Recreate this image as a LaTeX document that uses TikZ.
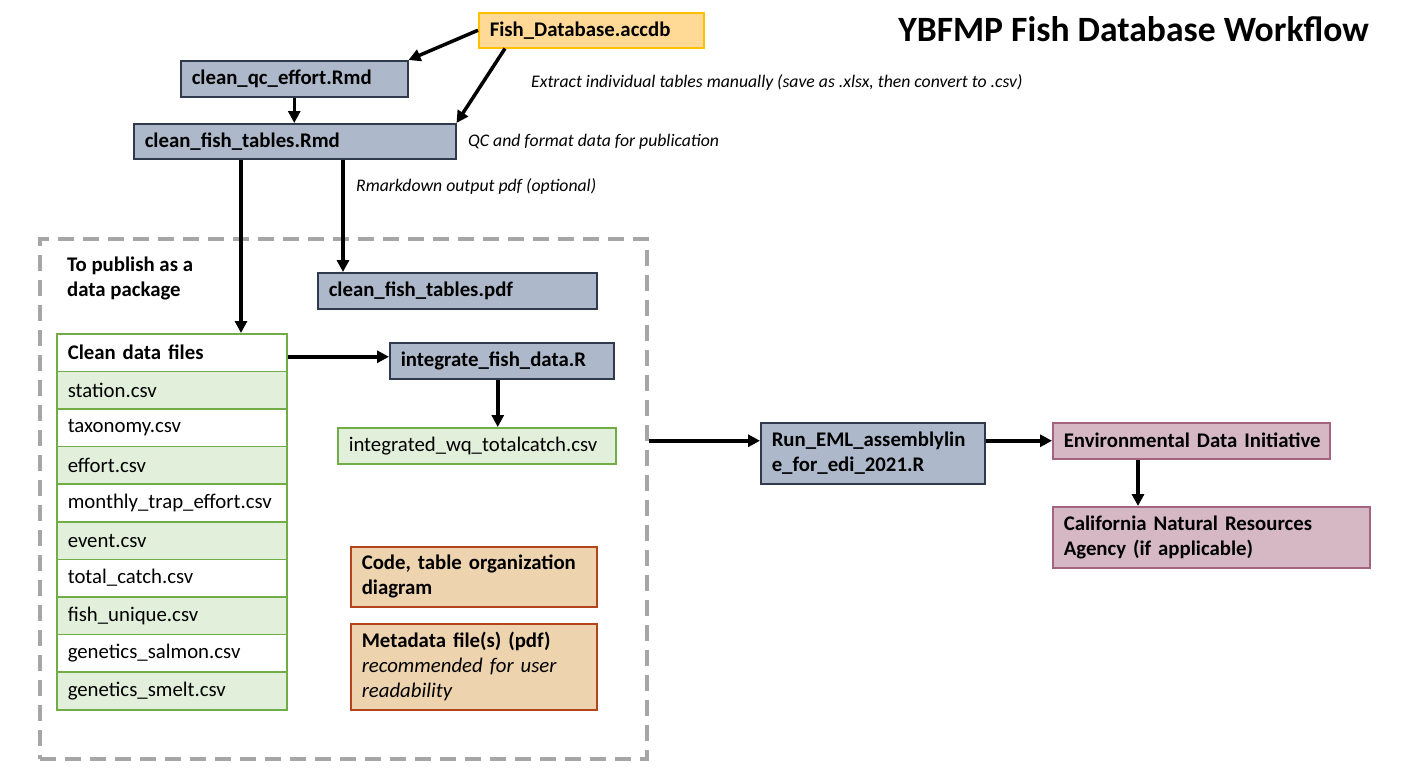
\documentclass[tikz,border=0pt]{standalone}
\usepackage{fontspec}
\setmainfont{Carlito}
\usetikzlibrary{arrows.meta,calc}
\definecolor{gbfill}{HTML}{ADB9CA}
\definecolor{gbdraw}{HTML}{2F3B4C}
\definecolor{dbfill}{HTML}{FFD995}
\definecolor{dbdraw}{HTML}{FFC000}
\definecolor{grfill}{HTML}{E2EFDA}
\definecolor{grdraw}{HTML}{70AD47}
\definecolor{pkfill}{HTML}{D5B8C4}
\definecolor{pkdraw}{HTML}{A4637E}
\definecolor{orfill}{HTML}{EDD3AE}
\definecolor{ordraw}{HTML}{B5441C}
\definecolor{dashgray}{HTML}{A6A6A6}
\newcommand\boxfont{\fontsize{20.8}{25}\selectfont}
\newcommand\lblfont{\fontsize{17.7}{21}\selectfont\itshape}
\tikzset{
  wh/.code 2 args={\pgfmathsetmacro\mytw{#1-22}\edef\mytmp{\noexpand\tikzset{minimum width=#1pt, minimum height=#2pt, text width=\mytw pt}}\mytmp},
  base/.style={rectangle, anchor=north west, align=left, inner xsep=11pt, inner ysep=0pt, line width=1.5pt, font=\boxfont},
  script/.style={base, draw=gbdraw, fill=gbfill, font=\boxfont\bfseries},
  dbbox/.style={base, draw=dbdraw, fill=dbfill, font=\boxfont\bfseries},
  filerow/.style={base, draw=grdraw, fill=grfill},
  plainrow/.style={base, draw=grdraw, fill=white},
  pinkbox/.style={base, draw=pkdraw, fill=pkfill, font=\boxfont\bfseries},
  orbox/.style={base, draw=ordraw, fill=orfill, font=\boxfont\bfseries},
  lbl/.style={anchor=west, inner sep=0pt, font=\lblfont},
  arr/.style={line width=3.5pt, -{Triangle[length=12pt,width=12pt]}},
}
\begin{document}
\begin{tikzpicture}[x=1pt,y=-1pt]
\useasboundingbox (0,0) rectangle (1409,780);
% dashed package frame
\node[draw=dashgray, line width=3.5pt, dash pattern=on 16pt off 9pt, anchor=north west, minimum width=607pt, minimum height=520pt, inner sep=0pt] (pkg) at (38,237) {};
% title
\node[anchor=east, inner sep=0pt, font=\fontsize{35.6}{40}\selectfont\bfseries] (title) at (1369,29) {YBFMP Fish Database Workflow};
% top nodes
\node[dbbox, wh={225}{35}] (fishdb) at (478,12) {Fish\_Database.accdb};
\node[script, wh={227}{36}] (qc) at (180,60) {clean\_qc\_effort.Rmd};
\node[script, wh={322}{35}] (cft) at (133,123) {clean\_fish\_tables.Rmd};
\node[script, wh={279}{36}] (pdf) at (317,272) {clean\_fish\_tables.pdf};
% labels
\node[lbl] (l1) at (531,82) {Extract individual tables manually (save as .xlsx, then convert to .csv)};
\node[lbl] (l2) at (468,142) {QC and format data for publication};
\node[lbl] (l3) at (356,186) {Rmarkdown output pdf (optional)};
\node[anchor=west, align=left, inner sep=0pt, font=\boxfont\bfseries] (pubtxt) at (67,278) {To publish as a\\data package};
% table of clean data files
\node[plainrow, font=\boxfont\bfseries, wh={230}{37.6}] (r0) at (56,333) {Clean data files};
\node[filerow, wh={230}{37.6}] (r1) at (56,370.6) {station.csv};
\node[plainrow, wh={230}{37.6}] (r2) at (56,408.2) {taxonomy.csv};
\node[filerow, wh={230}{37.6}] (r3) at (56,445.8) {effort.csv};
\node[plainrow, wh={230}{37.6}] (r4) at (56,483.4) {monthly\_trap\_effort.csv};
\node[filerow, wh={230}{37.6}] (r5) at (56,521) {event.csv};
\node[plainrow, wh={230}{37.6}] (r6) at (56,558.6) {total\_catch.csv};
\node[filerow, wh={230}{37.6}] (r7) at (56,596.2) {fish\_unique.csv};
\node[plainrow, wh={230}{37.6}] (r8) at (56,633.8) {genetics\_salmon.csv};
\node[filerow, wh={230}{37.6}] (r9) at (56,671.4) {genetics\_smelt.csv};
% integration
\node[script, wh={224}{36}] (integ) at (389,342) {integrate\_fish\_data.R};
\node[filerow, wh={278}{36}] (csv) at (337,427) {integrated\_wq\_totalcatch.csv};
% documentation
\node[orbox, wh={246}{60}] (code) at (350,546) {Code, table organization\\diagram};
\node[orbox, wh={246}{86}] (meta) at (350,623) {Metadata file(s) (pdf)\\\textit{\mdseries recommended for user}\\\textit{\mdseries readability}};
% publication
\node[script, wh={224}{61}] (eml) at (760,422) {Run\_EML\_assemblylin\\e\_for\_edi\_2021.R};
\node[pinkbox, wh={277}{36}] (edi) at (1052,422) {\mbox{Environmental Data Initiative}};
\node[pinkbox, wh={317}{61}] (cnra) at (1052,506) {California Natural Resources\\Agency (if applicable)};
% helper coordinates
\coordinate (c0) at ($(fishdb.south west)+(27,0)$);
\coordinate (c1) at ($(cft.south west)+(108,0)$);
\coordinate (c2) at ($(cft.south west)+(210,0)$);
\coordinate (c3) at ($(integ.south)+(-4,0)$);
\coordinate (c4) at ($(edi.south west)+(86,0)$);
% connectors
\draw[arr] (fishdb.west) -- (qc.north east);
\draw[arr] (c0) -- (cft.north east);
\draw[arr] (qc.south) -- (qc.south |- cft.north);
\draw[arr] (c1) -- (c1 |- r0.north);
\draw[arr] (c2) -- (c2 |- pdf.north);
\draw[arr] ($(r0.east |- integ.west)+(0,-4)$) -- ($(integ.west)+(0,-4)$);
\draw[arr] (c3) -- (c3 |- csv.north);
\draw[arr] (pkg.east |- edi.west) -- (eml.west |- edi.west);
\draw[arr] (eml.east |- edi.west) -- (edi.west);
\draw[arr] (c4) -- (c4 |- cnra.north);
\end{tikzpicture}
\end{document}
